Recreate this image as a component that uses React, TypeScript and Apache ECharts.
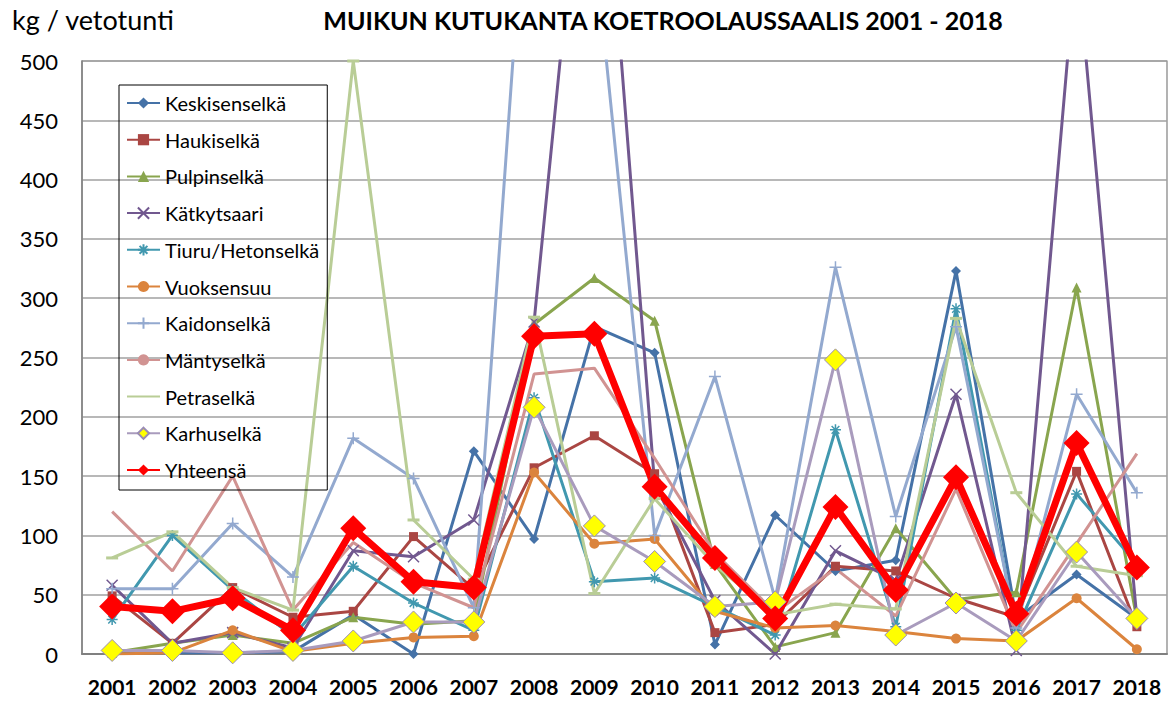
import React, { useEffect, useRef } from "react";
import * as echarts from "echarts";

const years = ["2001","2002","2003","2004","2005","2006","2007","2008","2009","2010","2011","2012","2013","2014","2015","2016","2017","2018"];

const keskisenselka = [2, 1, 1, 2, 33, 0, 171, 97, 276, 254, 8, 117, 70, 79, 323, 30, 67, 30];
const haukiselka = [49, 9, 56, 31, 36, 99, 55, 157, 184, 152, 18, 25, 74, 70, 47, 31, 154, 23];
const pulpinselka = [1, 9, 16, 9, 31, 25, 28, 278, 317, 281, 76, 6, 18, 106, 46, 52, 309, 29];
const katkytsaari = [58, 9, 18, 5, 87, 82, 113, 280, 790, 143, 45, 0, 87, 62, 219, 3, 590, 30];
const tiuru = [29, 100, 54, 15, 74, 43, 20, 216, 61, 64, 40, 16, 189, 23, 291, 20, 135, 76];
const vuoksensuu = [0, 1, 20, 2, 9, 14, 15, 153, 93, 97, 36, 22, 24, 19, 13, 11, 47, 4];
const kaidonselka = [55, 55, 110, 65, 182, 148, 39, 750, 600, 100, 234, 46, 326, 116, 276, 22, 219, 136];
const mantyselka = [120, 70, 150, 37, 94, 60, 39, 236, 241, 165, 85, 35, 72, 32, 139, 18, 93, 169];
const petraselka = [81, 103, 56, 37, 500, 113, 63, 284, 51, 131, 75, 33, 42, 38, 283, 136, 74, 66];
const karhuselka = [3, 3, 1, 3, 11, 27, 27, 208, 108, 78, 40, 44, 248, 16, 43, 11, 86, 30];
const yhteensa = [40, 36, 47, 20, 106, 61, 56, 268, 270, 141, 81, 30, 124, 54, 149, 34, 178, 73];

const FONT = "Lato";

const X_PATH = "path://M0,0L10,10M10,0L0,10";
const STAR_PATH = "path://M0,5L10,5M5,0L5,10M1.5,1.5L8.5,8.5M8.5,1.5L1.5,8.5";
const PLUS_PATH = "path://M0,5L10,5M5,0L5,10";

function mk(name: string, data: number[], color: string, symbol: string, size: any, extra: any = {}) {
  return {
    name,
    type: "line",
    data,
    symbol,
    symbolSize: size,
    showAllSymbol: true,
    clip: true,
    lineStyle: { color, width: 3 },
    itemStyle: { color, borderColor: color, borderWidth: 0 },
    emphasis: { disabled: true },
    ...extra,
  };
}

export default function App() {
  const ref = useRef<HTMLDivElement>(null);
  useEffect(() => {
    document.body.style.margin = "0";
    const chart = echarts.init(ref.current!, null, { renderer: "svg" });
    const series: any[] = [
      mk("Keskisenselkä", keskisenselka, "#4572A7", "diamond", 10),
      mk("Haukiselkä", haukiselka, "#AA4643", "rect", 9),
      mk("Pulpinselkä", pulpinselka, "#89A54E", "triangle", 10),
      mk("Kätkytsaari", katkytsaari, "#71588F", X_PATH, 11, {
        itemStyle: { color: "#71588F", borderColor: "#71588F", borderWidth: 1.5 },
      }),
      mk("Tiuru/Hetonselkä", tiuru, "#4198AF", STAR_PATH, 11, {
        itemStyle: { color: "#4198AF", borderColor: "#4198AF", borderWidth: 1.5 },
      }),
      mk("Vuoksensuu", vuoksensuu, "#DB843D", "circle", 10),
      mk("Kaidonselkä", kaidonselka, "#93A9CF", PLUS_PATH, 12, {
        itemStyle: { color: "#93A9CF", borderColor: "#93A9CF", borderWidth: 1.5 },
      }),
      mk("Mäntyselkä", mantyselka, "#D19392", "none", 0),
      mk("Petraselkä", petraselka, "#B9CD96", "rect", [12, 3]),
      mk("Karhuselkä", karhuselka, "#A99BBD", "diamond", 22, {
        itemStyle: { color: "#FFFF00", borderColor: "#9A8CB4", borderWidth: 1 },
        lineStyle: { color: "#A99BBD", width: 3 },
      }),
      mk("Yhteensä", yhteensa, "#FF0000", "diamond", 26, {
        lineStyle: { color: "#FF0000", width: 7 },
      }),
    ];
    const legendData = series.map((s) =>
      s.name === "Petraselkä"
        ? { name: s.name, itemStyle: { color: "transparent", borderWidth: 0, opacity: 0 } }
        : { name: s.name }
    );
    chart.setOption({
      animation: false,
      backgroundColor: "#fff",
      grid: {
        left: 82,
        right: 2,
        top: 61,
        bottom: 48,
        show: true,
        borderColor: "#808080",
        borderWidth: 1.2,
        containLabel: false,
      },
      legend: {
        orient: "vertical",
        left: 119,
        top: 85,
        itemWidth: 33,
        itemHeight: 14,
        itemGap: 16.7,
        padding: [8, 8, 10, 7],
        borderColor: "#000",
        borderWidth: 1,
        backgroundColor: "transparent",
        textStyle: { fontFamily: FONT, fontSize: 20, color: "#000", lineHeight: 20 },
        data: legendData,
      },
      xAxis: {
        type: "category",
        data: years,
        boundaryGap: true,
        axisLine: { show: true, lineStyle: { color: "#808080", width: 2 } },
        axisTick: { show: false },
        axisLabel: {
          fontFamily: FONT,
          fontWeight: "bold",
          fontSize: 21,
          color: "#000",
          margin: 22,
          interval: 0,
        },
        splitLine: { show: false },
      },
      yAxis: {
        type: "value",
        min: 0,
        max: 500,
        interval: 50,
        axisLine: { show: true, lineStyle: { color: "#808080", width: 1.5 } },
        axisTick: { show: false },
        axisLabel: {
          fontFamily: FONT,
          fontSize: 22,
          color: "#000",
          margin: 24,
        },
        splitLine: { show: true, lineStyle: { color: "#A0A0A0", width: 1.5 } },
      },
      graphic: [
        {
          type: "text",
          left: 12,
          top: 6,
          style: { text: "kg / vetotunti", fontFamily: FONT, fontSize: 27, fill: "#000" },
        },
        {
          type: "text",
          x: 663,
          y: 20,
          style: {
            text: "MUIKUN KUTUKANTA KOETROOLAUSSAALIS 2001 - 2018",
            fontFamily: FONT,
            fontWeight: "bold",
            fontSize: 25,
            fill: "#000",
            textAlign: "center",
            textVerticalAlign: "middle",
          },
        },
      ],
      series,
    });
    return () => chart.dispose();
  }, []);
  return <div ref={ref} style={{ width: 1169, height: 702 }} />;
}
